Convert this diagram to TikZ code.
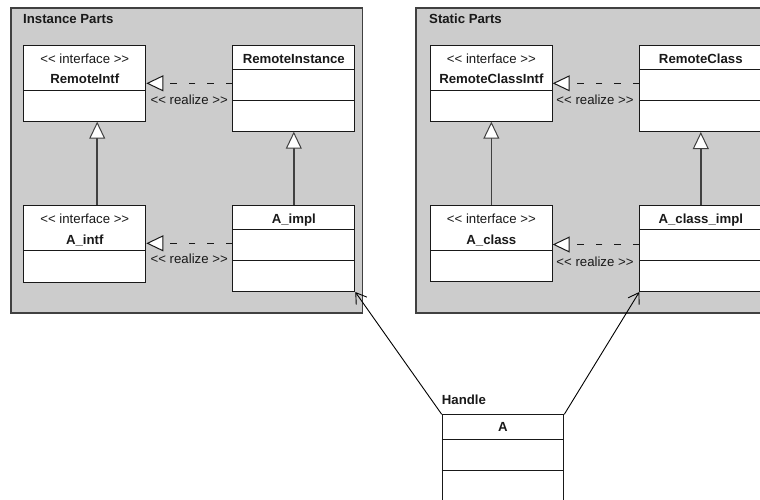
\documentclass[tikz,border=0pt]{standalone}
\usepackage{fontspec}
\newfontfamily\umlfont{Liberation Sans}
\usetikzlibrary{arrows.meta}
\begin{document}
\begin{tikzpicture}[x=1pt,y=-1pt,
  every node/.style={font=\umlfont\fontsize{13.2}{15}\selectfont, text=black!90, inner sep=0pt, text height=9.3pt, text depth=0pt},
  boldtxt/.style={font=\umlfont\bfseries\fontsize{13.2}{15}\selectfont},
  pkg/.style={draw=black!75, fill=black!20, line width=1.2pt},
  cls/.style={draw=black!90, fill=white, line width=1pt, anchor=north west, minimum width=122pt, text height=, text depth=},
  divider/.style={draw=black!90, line width=1pt},
  gen/.style={draw=black!75, line width=1.5pt, -{Triangle[length=17pt, width=16pt, fill=white, line width=1pt]}},
  realz/.style={draw=black!90, line width=1.1pt, dash pattern=on 6.5pt off 12pt, -{Triangle[length=17pt, width=16pt, fill=white, line width=1pt]}},
  assoc/.style={draw=black, line width=0.9pt, -{Straight Barb[length=10pt, width=13pt, line width=0.9pt]}}
]
\clip (0,0) rectangle (760,499);
\fill[white] (0,0) rectangle (760,499);

% packages
\path[pkg] (11,8) rectangle (362.7,313);
\path[pkg] (416,8) rectangle (770,313);
\node[boldtxt, anchor=west] (pinst) at (23,19.3) {Instance Parts};
\node[boldtxt, anchor=west] (pstat) at (429,19.3) {Static Parts};

% Instance parts classes
\node[cls, minimum height=75.7pt] (ritf) at (23.3,45) {};
\draw[divider] ([yshift=-45pt]ritf.north west) -- ([yshift=-45pt]ritf.north east);
\node (ritfS) at ([yshift=-14.3pt]ritf.north) {<< interface >>};
\node[boldtxt] (ritfN) at ([yshift=-34pt]ritf.north) {RemoteIntf};

\node[cls, minimum height=85.7pt] (ri) at (232.3,45) {};
\draw[divider] ([yshift=-24.3pt]ri.north west) -- ([yshift=-24.3pt]ri.north east);
\draw[divider] ([yshift=-55pt]ri.north west) -- ([yshift=-55pt]ri.north east);
\node[boldtxt] (riN) at ([yshift=-13.7pt]ri.north) {RemoteInstance};

\node[cls, minimum height=76.7pt] (aintf) at (23.3,205) {};
\draw[divider] ([yshift=-45.7pt]aintf.north west) -- ([yshift=-45.7pt]aintf.north east);
\node (aintfS) at ([yshift=-14.3pt]aintf.north) {<< interface >>};
\node[boldtxt] (aintfN) at ([yshift=-34.8pt]aintf.north) {A\_intf};

\node[cls, minimum height=86pt] (aimpl) at (232.3,205) {};
\draw[divider] ([yshift=-24.3pt]aimpl.north west) -- ([yshift=-24.3pt]aimpl.north east);
\draw[divider] ([yshift=-55pt]aimpl.north west) -- ([yshift=-55pt]aimpl.north east);
\node[boldtxt] (aimplN) at ([yshift=-14.3pt]aimpl.north) {A\_impl};

% Static parts classes
\node[cls, minimum width=121.7pt, minimum height=75.7pt] (rcitf) at (430,45) {};
\draw[divider] ([yshift=-45.7pt]rcitf.north west) -- ([yshift=-45.7pt]rcitf.north east);
\node (rcitfS) at ([yshift=-14.3pt]rcitf.north) {<< interface >>};
\node[boldtxt] (rcitfN) at ([yshift=-34pt]rcitf.north) {RemoteClassIntf};

\node[cls, minimum height=86pt] (rc) at (639.3,45) {};
\draw[divider] ([yshift=-24.3pt]rc.north west) -- ([yshift=-24.3pt]rc.north east);
\draw[divider] ([yshift=-55.3pt]rc.north west) -- ([yshift=-55.3pt]rc.north east);
\node[boldtxt] (rcN) at ([yshift=-13.7pt]rc.north) {RemoteClass};

\node[cls, minimum width=121.7pt, minimum height=75.7pt] (acls) at (430,205) {};
\draw[divider] ([yshift=-45.7pt]acls.north west) -- ([yshift=-45.7pt]acls.north east);
\node (aclsS) at ([yshift=-14.3pt]acls.north) {<< interface >>};
\node[boldtxt] (aclsN) at ([yshift=-34.8pt]acls.north) {A\_class};

\node[cls, minimum height=86pt] (acimpl) at (639.3,205) {};
\draw[divider] ([yshift=-24.3pt]acimpl.north west) -- ([yshift=-24.3pt]acimpl.north east);
\draw[divider] ([yshift=-55pt]acimpl.north west) -- ([yshift=-55pt]acimpl.north east);
\node[boldtxt] (acimplN) at ([yshift=-14.3pt]acimpl.north) {A\_class\_impl};

% generalizations
\draw[gen] ([xshift=12.4pt]aintf.north) -- ([xshift=12.4pt]ritf.south);
\draw[gen] (aimpl.north) -- (ri.south);
\draw[gen] (acls.north) -- (rcitf.south);
\draw[gen] (acimpl.north) -- (rc.south);

% realizations
\draw[realz] ([yshift=-38.3pt]ri.north west) -- ([yshift=-38.3pt]ritf.north east);
\draw[realz] ([yshift=-38.3pt]aimpl.north west) -- ([yshift=-38.3pt]aintf.north east);
\draw[realz] ([yshift=-38.3pt]rc.north west) -- ([yshift=-38.3pt]rcitf.north east);
\draw[realz] ([yshift=-39.5pt]acimpl.north west) -- ([yshift=-39.5pt]acls.north east);
\node (rl1) at (189.2,100) {<< realize >>};
\node (rl2) at (189.2,259.3) {<< realize >>};
\node (rl3) at (595,100) {<< realize >>};
\node (rl4) at (595,261.7) {<< realize >>};

% Handle
\node[cls, minimum width=121.6pt, minimum height=120pt] (h) at (441.7,414.3) {};
\draw[divider] ([yshift=-24.7pt]h.north west) -- ([yshift=-24.7pt]h.north east);
\draw[divider] ([yshift=-55.7pt]h.north west) -- ([yshift=-55.7pt]h.north east);
\node[boldtxt] (hN) at ([yshift=-12.4pt]h.north) {A};
\node[boldtxt, anchor=west] (hL) at (441.7,400) {Handle};

\draw[assoc] (h.north west) -- (aimpl.south east);
\draw[assoc] (h.north east) -- (acimpl.south west);
\end{tikzpicture}
\end{document}
